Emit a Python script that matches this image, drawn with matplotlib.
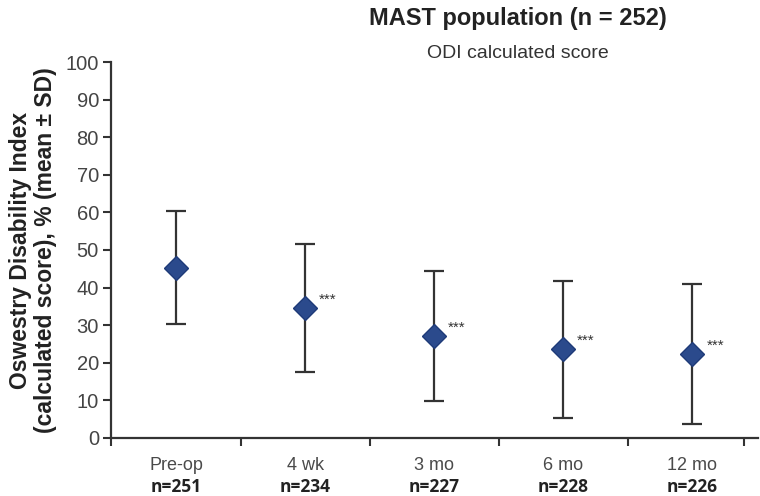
import numpy as np
import matplotlib
matplotlib.use('Agg')
import matplotlib.pyplot as plt

# Data
timepoints = ['Pre-op', '4 wk', '3 mo', '6 mo', '12 mo']
n_labels = ['n=251', 'n=234', 'n=227', 'n=228', 'n=226']
odi_mean = [45.3, 34.5, 27.0, 23.6, 22.4]
odi_sd = [15.1, 17.0, 17.3, 18.2, 18.6]
significance = ['', '***', '***', '***', '***']

plt.rcParams['font.family'] = ['Liberation Sans', 'DejaVu Sans']

fig = plt.figure(figsize=(7.6, 4.96), dpi=100)
ax = fig.add_axes([0.1467, 0.117, 0.851, 0.758])

x = np.arange(len(timepoints))
ax.errorbar(x, odi_mean, yerr=odi_sd, fmt='none', ecolor='#333333',
            elinewidth=1.6, capsize=7.5, capthick=1.6, zorder=2)
ax.plot(x, odi_mean, linestyle='none', marker='D', markersize=12,
        markerfacecolor='#2b4a8c', markeredgecolor='#1e3a78', zorder=3)

for xi, m, s in zip(x, odi_mean, significance):
    if s:
        ax.annotate(s, (xi, m), xytext=(10, 6), textcoords='offset points',
                    fontsize=11, color='#333333', va='center', ha='left')

ax.set_ylim(0, 100)
ax.set_xlim(-0.5, 4.51)
ax.set_yticks(np.arange(0, 101, 10))
ax.tick_params(axis='y', labelsize=14.5, colors='#333333', length=6,
               width=1.5, labelcolor='#444444', pad=3)

# category boundaries as tick marks, labels in the middle
ax.set_xticks(list(np.arange(-0.5, 3.6, 1.0)) + [4.4])
ax.set_xticklabels([])
ax.tick_params(axis='x', length=6, width=1.5, colors='#333333')
ax.set_xticks(x, minor=True)
ax.set_xticklabels(timepoints, minor=True)
ax.tick_params(axis='x', which='minor', length=0, labelsize=13,
               labelcolor='#4a4a4a', pad=14)

for xi, lab in zip(x, n_labels):
    ax.text(xi, -0.13, lab, transform=ax.get_xaxis_transform(),
            ha='center', va='center', fontsize=12.5, fontweight='bold',
            color='#222222', family=['Open Sans', 'DejaVu Sans'])

for side in ['top', 'right']:
    ax.spines[side].set_visible(False)
for side in ['left', 'bottom']:
    ax.spines[side].set_linewidth(1.6)
    ax.spines[side].set_color('#333333')

ax.set_ylabel('Oswestry Disability Index\n(calculated score), % (mean ± SD)',
              fontsize=16.5, fontweight='bold', color='#222222', labelpad=6,
              linespacing=1.1)

fig.text(0.682, 0.963, 'MAST population (n = 252)', ha='center', va='center',
         fontsize=17, fontweight='bold', color='#222222')
fig.text(0.682, 0.893, 'ODI calculated score', ha='center', va='center',
         fontsize=14, color='#333333')

fig.savefig('out.png', dpi=100)
